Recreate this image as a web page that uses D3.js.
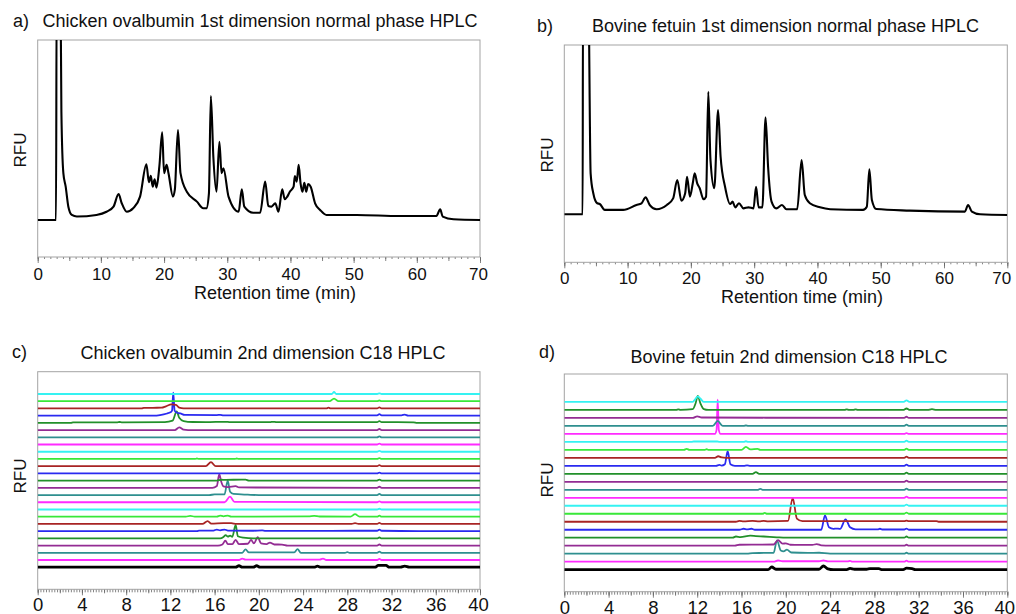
<!doctype html>
<html lang="en">
<head>
  <meta charset="utf-8">
  <title>2D HPLC glycan profiles</title>
  <style>
    body { margin: 0; background: #fff; }
    svg { display: block; font-family: "Liberation Sans", Arial, sans-serif; }
    .frame { fill: none; stroke: #a3a3a3; stroke-width: 1; }
    .tick line { stroke: #666; }
    .domain { display: none; }
    .trace { fill: none; stroke-linejoin: round; }
  </style>
</head>
<body>
  <div id="chart"></div>

  <script src="https://d3js.org/d3.v7.min.js"></script>
  <script>
// ---- data: retention time (min), relative fluorescence ----
const xTicksNP = [0, 10, 20, 30, 40, 50, 60, 70];
const xTicksC18 = [0, 4, 8, 12, 16, 20, 24, 28, 32, 36, 40];

// a) chicken ovalbumin, normal phase
const ovalbuminNP = [[0,0],[2.9,0],[3.0,130],[3.6,130],[3.75,60],[4.06,26],[4.43,18.5],[4.85,7.4],[5.4,2.8],[6.2,1.9],
  [9.3,2.8],[10.9,4.6],[12.0,7.4],[12.8,14.4],[13.3,9.3],[14.1,4.6],[15.1,6.5],[16.2,13],[17.2,31],[17.6,21],
  [17.9,24.6],[18.2,18.5],[18.5,22.6],[18.8,18],[19.25,29.6],[19.7,48.7],[20.0,26],[20.4,30.6],[20.7,26],[21.4,13],
  [21.7,16.7],[22.2,50],[22.6,26],[23.6,15.7],[25.2,10.2],[26.2,6.5],[26.7,6.5],[27.1,14.8],[27.4,68.9],[27.8,35],
  [28.3,15.7],[28.75,43.5],[29.1,26],[29.4,28.7],[30.2,13],[31.8,4.6],[32.3,17],[32.7,7.4],[34.1,4],[35.2,4],
  [36.0,21.3],[36.5,7.8],[37.0,7.4],[37.6,9.3],[38.1,4.6],[38.7,17],[39.1,11.5],[39.5,13],[39.9,15.7],[40.5,18.5],
  [40.7,24.4],[41.0,21.3],[41.3,30.6],[41.6,20.4],[41.9,15.7],[42.2,20.7],[42.5,15.7],[42.8,20],[43.2,18.5],[43.9,9.3],
  [44.7,5.6],[45.7,2.8],[50.5,2.8],[57.3,2.2],[63.1,2.2],[63.7,5.9],[64.1,1.9],[65.8,0.4],[70,0]];

// b) bovine fetuin, normal phase
const fetuinNP = [[0,0],[2.9,0],[2.95,130],[3.8,130],[4.16,24.2],[4.58,12.4],[5.2,6.5],[5.6,6.1],[6.4,2.6],[9.3,2.6],
  [11.4,5.5],[12.2,6.5],[12.85,10],[13.5,5.5],[14.6,3],[16.2,5.5],[17.2,9.4],[17.85,20.3],[18.5,8],[19.1,12.4],
  [19.4,22.2],[19.85,10.4],[20.3,18.3],[20.6,24.2],[21.0,18.3],[21.4,15.4],[22.0,8.9],[22.4,10.4],[22.75,72.4],[23.1,32],
  [23.7,15.4],[24.3,61.6],[24.7,34],[25.4,16.3],[26.2,6.1],[26.6,7.5],[27.0,4.1],[27.6,6.5],[28.3,3.5],[29.1,4.1],
  [29.9,3.5],[30.3,16.3],[30.7,4.1],[31.3,4.1],[31.8,57.3],[32.2,28.1],[32.75,7.5],[33.5,3.5],[34.4,5.5],[35.1,3],
  [36.8,3],[37.5,32],[38.0,11.4],[38.8,6.5],[40.4,4.1],[42.0,3],[47.2,2.6],[47.8,4.5],[48.2,26.6],[48.6,8.5],
  [49.3,3.1],[54.6,2.2],[63.3,1.6],[63.8,5.5],[64.4,1.6],[65.7,0],[70,-0.4]];

// c) chicken ovalbumin C18 fractions, listed bottom (whole sample) to top
const ovalbuminC18 = [
  [[0,0],[17.9,0],[18.2,0.2],[18.5,0],[19.5,0],[19.8,0.2],[20.1,0],[25.0,0],[25.3,0.15],[25.6,0],[30.5,0],[30.8,0.25],[31.5,0.25],[31.8,0],[32.8,0],[33.2,0.15],[33.6,0],[40,0]],
  [[0,0],[18.2,0],[18.5,0.2],[18.8,0.05],[25.5,0.05],[25.8,0.2],[26.1,0],[30.7,0],[30.9,0.15],[31.1,0],[40,0]],
  [[0,0],[18.5,0],[18.8,0.46],[19.1,0.05],[23.2,0.05],[23.5,0.5],[23.8,0],[27.8,0],[28,0.08],[28.2,0],[30.7,0],[30.9,0.15],[31.1,0],[40,0]],
  [[0,0],[16.3,0],[16.7,0.15],[16.97,0.69],[17.2,0.2],[17.6,0.2],[17.9,0.78],[18.2,0.2],[19.0,0.25],[19.3,0.78],[19.55,0.3],[19.9,1.15],[20.2,0.3],[20.7,0.2],[21.0,0.42],[21.4,0.15],[22.1,0.14],[22.6,0],[30.7,0],[30.9,0.15],[31.1,0],[40,0]],
  [[0,0],[16.5,0],[16.8,0.2],[17.0,0.46],[17.2,0.25],[17.4,0.37],[17.6,0.2],[17.9,1.85],[18.1,0.3],[18.6,0.1],[19.5,0],[30.7,0],[30.9,0.12],[31.1,0],[40,0]],
  [[0,0],[14.4,0],[14.6,0.08],[15.9,0.08],[16.2,0.22],[16.5,0.1],[16.9,0.22],[17.2,0.08],[19.5,0.05],[20.3,0.1],[20.6,0.04],[24.5,0.04],[28.6,0.05],[30.7,0.05],[30.9,0.2],[31.1,0.05],[34.5,0],[40,0]],
  [[0,0],[14.9,0],[15.37,0.4],[15.7,0.05],[16.8,0.12],[17.5,0.1],[18,0],[28.4,0],[28.7,0.12],[29,0],[30.7,0],[30.9,0.15],[31.1,0],[40,0]],
  [[0,0],[13.4,0],[13.8,0.12],[14.2,0],[16.2,0],[16.5,0.15],[16.8,0.05],[17.2,0.15],[17.5,0],[24.5,0.05],[25,0.1],[25.5,0.03],[28.3,0],[28.7,0.35],[29.1,0],[30.7,0],[30.9,0.15],[31.1,0],[40,0]],
  [[0,0],[30.7,0],[30.9,0.1],[31.1,0],[40,0]],
  [[0,0],[16.9,0],[17.39,0.79],[17.8,0.05],[30.7,0],[30.9,0.12],[31.1,0],[40,0]],
  [[0,0],[15.5,0],[16.0,0.08],[16.9,0.1],[17.18,2.0],[17.4,0.46],[17.7,0.15],[19,0.05],[20,0],[30.7,0],[30.9,0.15],[31.1,0],[40,0]],
  [[0,0],[15.8,0],[16.2,0.25],[16.42,1.9],[16.6,0.83],[16.8,0.2],[17.2,0.1],[17.9,0.23],[18.2,0.05],[30.7,0],[30.9,0.15],[31.1,0],[40,0]],
  [[0,0],[16.2,0],[16.6,0.12],[17.0,0.1],[18.4,0.14],[18.8,0.14],[19.1,0],[30.7,0],[30.9,0.15],[31.1,0],[40,0]],
  [[0,0],[30.7,0],[30.9,0.12],[31.1,0],[40,0]],
  [[0,0],[15.2,0],[15.67,0.55],[16.1,0],[30.7,0],[30.9,0.15],[31.1,0],[40,0]],
  [[0,0],[14.2,0],[14.4,0.06],[14.6,0],[17.8,0],[18.0,0.06],[18.2,0],[30.7,0],[30.9,0.12],[31.1,0],[40,0]],
  [[0,0],[30.7,0],[30.9,0.12],[31.1,0],[40,0]],
  [[0,0],[30.7,0],[30.9,0.12],[31.1,0],[40,0]],
  [[0,0],[30.7,0],[30.9,0.12],[31.1,0],[40,0]],
  [[0,0],[12.4,0],[12.8,0.37],[13.2,0.05],[13.6,0],[30.7,0],[30.9,0.15],[31.1,0],[40,0]],
  [[0,0],[3,0],[3.2,0.08],[7.2,0.08],[7.4,0.12],[7.6,0.08],[11.5,0.1],[12.2,0.3],[12.57,1.6],[12.8,0.7],[13.2,0.25],[14,0.12],[15.2,0.1],[17.0,0.15],[17.4,0.1],[21,0.1],[21.3,0.15],[21.6,0.1],[30.7,0.1],[30.9,0.25],[31.1,0.1],[34,0.08],[34.3,0],[40,0]],
  [[0,0],[10.5,0],[11.06,0.08],[11.7,0.3],[12.0,0.46],[12.15,0.7],[12.26,3.2],[12.38,0.7],[12.6,0.4],[12.9,0.3],[13.3,0.1],[16.2,0.08],[16.5,0.12],[16.8,0.05],[26,0.05],[30.7,0.05],[30.9,0.2],[31.1,0.05],[32.9,0.05],[33.2,0.15],[33.5,0],[40,0]],
  [[0,0],[9.4,0],[9.6,0.08],[11.2,0.1],[11.6,0.3],[12.1,0.55],[12.5,0.5],[12.8,0.1],[13.2,0],[26.1,0],[26.3,0.1],[26.5,0],[30.7,0],[30.9,0.15],[31.1,0],[40,0]],
  [[0,0],[26.4,0],[26.8,0.37],[27.2,0],[30.7,0],[30.9,0.1],[31.1,0],[40,0]],
  [[0,0],[26.6,0],[26.8,0.28],[27.0,0],[30.7,0],[30.9,0.08],[31.1,0],[40,0]]
];

// d) bovine fetuin C18 fractions, listed bottom (whole sample) to top
const fetuinC18 = [
  [[0,0],[18.4,0],[18.73,0.33],[19.1,0.05],[23.0,0.05],[23.4,0.46],[23.8,0.1],[24.3,0],[25.5,0],[25.8,0.15],[26.2,0.05],[27.3,0.05],[27.6,0.12],[28.4,0.12],[28.7,0],[30.6,0],[30.9,0.18],[31.4,0.12],[31.7,0],[40,0]],
  [[0,0],[18.9,0],[19.3,0.15],[19.7,0.05],[23.0,0.05],[23.4,0.15],[23.8,0.03],[25.6,0.03],[25.8,0.1],[26,0],[30.7,0],[30.9,0.12],[31.1,0],[40,0]],
  [[0,0],[16.5,0],[17,0.08],[18.9,0.1],[19.2,1.67],[19.55,0.4],[19.8,0.3],[20.1,0.5],[20.5,0.15],[22,0.1],[23,0.12],[24,0],[30.7,0],[30.9,0.12],[31.1,0],[40,0]],
  [[0,0],[15.4,0],[15.8,0.12],[18.9,0.15],[19.3,0.7],[19.7,0.25],[20.0,0.3],[20.4,0.12],[22.4,0.1],[22.8,0.2],[23.2,0.05],[24,0],[30.7,0],[30.9,0.12],[31.1,0],[40,0]],
  [[0,0],[15.2,0],[15.5,0.15],[15.9,0.08],[16.8,0.25],[17.3,0.2],[18,0.15],[19.2,0.05],[20,0],[30.7,0],[30.9,0.15],[31.1,0],[40,0]],
  [[0,0],[15.8,0],[16.2,0.12],[16.5,0.05],[16.9,0.12],[17.2,0],[23.2,0],[23.54,1.8],[23.9,0.3],[24.3,0.1],[24.55,0.15],[24.9,0.1],[25.4,1.3],[25.8,0.3],[26.3,0.05],[28.3,0.05],[28.5,0.12],[28.7,0.03],[30.7,0.03],[30.9,0.15],[31.1,0],[40,0]],
  [[0,0],[15.5,0],[15.8,0.1],[16.2,0.05],[17,0.1],[17.6,0.05],[18,0.12],[18.4,0.05],[20.2,0.1],[20.62,3.0],[21.0,0.4],[21.5,0.08],[30.7,0.08],[30.9,0.15],[31.1,0.08],[33.6,0.08],[33.8,0],[40,0]],
  [[0,0],[17.9,0],[18.1,0.1],[18.3,0],[30.7,0],[30.9,0.15],[31.1,0],[40,0]],
  [[0,0],[30.7,0],[30.9,0.15],[31.1,0],[40,0]],
  [[0,0],[30.7,0],[30.9,0.15],[31.1,0],[40,0]],
  [[0,0],[17.5,0],[17.7,0.12],[17.9,0],[30.7,0],[30.9,0.15],[31.1,0],[40,0]],
  [[0,0],[30.7,0],[30.9,0.15],[31.1,0],[40,0]],
  [[0,0],[17.0,0],[17.3,0.22],[17.6,0],[30.7,0],[30.9,0.15],[31.1,0],[40,0]],
  [[0,0],[13.7,0],[14,0.12],[14.2,0.03],[14.5,0.2],[14.75,1.84],[15.0,0.2],[15.4,0],[16.2,0],[16.5,0.05],[16.8,0],[30.7,0],[30.9,0.15],[31.1,0],[40,0]],
  [[0,0],[13.6,0],[13.9,0.2],[14.2,0.05],[14.6,0],[30.7,0],[30.9,0.15],[31.1,0],[40,0]],
  [[0,0],[10.8,0],[11.05,0.12],[11.3,0],[12.7,0],[12.85,0.08],[13,0],[16,0],[16.4,0.38],[16.8,0.05],[17.45,0.12],[17.7,0],[30.7,0],[30.9,0.15],[31.1,0],[40,0]],
  [[0,0],[11.5,0],[11.7,0.05],[13.8,0.05],[14,0],[16.2,0],[16.4,0.08],[16.6,0],[30.7,0],[30.9,0.15],[31.1,0],[40,0]],
  [[0,0],[13.6,0],[13.75,0.5],[13.85,4.3],[13.95,0.5],[14.1,0],[30.7,0],[30.9,0.1],[31.1,0],[40,0]],
  [[0,0],[13.4,0],[13.85,0.63],[14.3,0],[16.2,0],[16.4,0.05],[16.6,0],[30.7,0],[30.9,0.15],[31.1,0],[40,0]],
  [[0,0],[11.6,0],[12.0,0.2],[12.4,0.05],[30.7,0],[30.9,0.15],[31.1,0],[40,0]],
  [[0,0],[10.1,0],[10.3,0.08],[10.5,0],[11.6,0.1],[11.85,0.8],[12.05,1.75],[12.3,0.8],[12.6,0.1],[13,0],[25.3,0],[25.5,0.08],[25.7,0],[26.1,0],[26.3,0.08],[26.5,0],[30.6,0],[30.9,0.18],[31.2,0],[32.8,0],[33.2,0.1],[33.6,0],[40,0]],
  [[0,0],[11.6,0],[11.85,0.4],[12.05,0.7],[12.3,0.4],[12.6,0],[30.6,0],[30.9,0.2],[31.2,0],[40,0]]
];

// ---- styles ----
const ink = {
  magenta: '#ff2bff', teal: '#2e8f8f', purple: '#932c93', dkgreen: '#22902a',
  blue: '#2a2af0', dkred: '#a82424', green: '#38e838', cyan: '#35f2f2'
};
const cycle = ['magenta', 'teal', 'purple', 'dkgreen', 'blue', 'dkred', 'green', 'cyan'];
const colorsC = ['#000'].concat(d3.range(1, 25).map(i => ink[cycle[(i - 1) % 8]]));
const colorsD = ['#000'].concat(d3.range(1, 21).map(i => ink[cycle[(i - 1) % 8]]), [ink.cyan]);

const svg = d3.select('#chart').append('svg')
  .attr('width', 1016)
  .attr('height', 614);

let clipId = 0;

// frame + bottom axis shared by all four panels
function panel(box, xDomain, majors, minorStep, opts) {
  const x = d3.scaleLinear().domain(xDomain).range([box.left, box.right]);
  const g = svg.append('g');

  const minors = d3.range(xDomain[0], xDomain[1] + 1e-9, minorStep);
  g.append('g')
    .attr('transform', `translate(0,${box.bottom})`)
    .call(d3.axisBottom(x).tickValues(minors).tickSize(opts.minorSize).tickFormat(''));
  if (opts.midStep) {
    g.append('g')
      .attr('transform', `translate(0,${box.bottom})`)
      .call(d3.axisBottom(x).tickValues(d3.range(xDomain[0], xDomain[1] + 1e-9, opts.midStep)).tickSize(opts.midSize).tickFormat(''));
  }
  const ax = g.append('g')
    .attr('transform', `translate(0,${box.bottom})`)
    .call(d3.axisBottom(x).tickValues(majors).tickSize(opts.majorSize).tickPadding(opts.pad).tickFormat(d3.format('d')));
  ax.selectAll('text').attr('fill', '#111').style('font-size', opts.tickFont + 'px').attr('font-family', null);
  // keep the last label inside the page, as in the original figure
  ax.selectAll('text').filter(d => d === majors[majors.length - 1]).attr('dx', opts.lastShift || 0);
  ax.selectAll('.tick line').attr('stroke', '#555');
  g.selectAll('.tick line').attr('stroke-width', 0.8);

  g.append('rect').attr('class', 'frame')
    .attr('x', box.left).attr('y', box.top)
    .attr('width', box.right - box.left).attr('height', box.bottom - box.top);

  const id = 'clip' + (clipId++);
  svg.append('clipPath').attr('id', id)
    .append('rect')
    .attr('x', box.left).attr('y', box.top)
    .attr('width', box.right - box.left).attr('height', box.bottom - box.top);
  const plot = svg.append('g').attr('clip-path', `url(#${id})`);
  return { x, plot };
}

function label(txt, x, y, size, anchor) {
  svg.append('text').attr('x', x).attr('y', y)
    .attr('text-anchor', anchor || 'start')
    .style('font-size', size + 'px').attr('fill', '#111')
    .text(txt);
}

function rfu(x, y) {
  svg.append('text')
    .attr('transform', `translate(${x},${y}) rotate(-90)`)
    .attr('text-anchor', 'middle')
    .style('font-size', '17px').attr('fill', '#111')
    .text('RFU');
}

const smooth = d3.curveMonotoneX;

// ---- a) ----
const boxA = { left: 37.7, right: 480, top: 40, bottom: 257 };
const pa = panel(boxA, [0, 70], xTicksNP, 1, { minorSize: 2, midStep: 5, midSize: 4, majorSize: 6, pad: 5, tickFont: 17, lastShift: -2 });
const yA = d3.scaleLinear().domain([-20.56, 100]).range([boxA.bottom, boxA.top]);
pa.plot.append('path').datum(ovalbuminNP).attr('class', 'trace')
  .attr('stroke', '#000').attr('stroke-width', 2.1)
  .attr('d', d3.line().curve(smooth).x(d => pa.x(d[0])).y(d => yA(d[1])));
label('a)', 13, 27, 18);
label('Chicken ovalbumin 1st dimension normal phase HPLC', 260, 27, 18, 'middle');
label('Retention time (min)', 275, 299, 18, 'middle');
rfu(26, 150);

// ---- b) ----
const boxB = { left: 564.3, right: 1007.3, top: 45, bottom: 262.3 };
const pb = panel(boxB, [0, 70], xTicksNP, 1, { minorSize: 2, midStep: 5, midSize: 4, majorSize: 6, pad: 4, tickFont: 17, lastShift: -6 });
const yB = d3.scaleLinear().domain([-28.35, 100]).range([boxB.bottom, boxB.top]);
pb.plot.append('path').datum(fetuinNP).attr('class', 'trace')
  .attr('stroke', '#000').attr('stroke-width', 2.1)
  .attr('d', d3.line().curve(smooth).x(d => pb.x(d[0])).y(d => yB(d[1])));
label('b)', 537, 32, 18);
label('Bovine fetuin 1st dimension normal phase HPLC', 785.5, 32, 18, 'middle');
label('Retention time (min)', 802, 303, 18, 'middle');
rfu(553, 155);

// ---- stacked C18 panels ----
function stack(p, y, traces, colors) {
  traces.forEach((tr, i) => {
    p.plot.append('path').datum(tr).attr('class', 'trace')
      .attr('stroke', colors[i])
      .attr('stroke-width', i === 0 ? 2.8 : 1.8)
      .attr('d', d3.line().curve(smooth).x(d => p.x(d[0])).y(d => y(i + d[1])));
  });
}

const boxC = { left: 37.7, right: 480, top: 371.7, bottom: 589.3 };
const pc = panel(boxC, [0, 40], xTicksC18, 0.25, { minorSize: 3, midStep: 2, midSize: 4, majorSize: 6, pad: 3, tickFont: 18.5, lastShift: -2 });
const yC = d3.scaleLinear().domain([-3.06, 27.09]).range([boxC.bottom, boxC.top]);
stack(pc, yC, ovalbuminC18, colorsC);
label('c)', 12, 358, 18);
label('Chicken ovalbumin 2nd dimension C18 HPLC', 263, 359, 18, 'middle');
rfu(26, 476);

const boxD = { left: 564.3, right: 1007.3, top: 374, bottom: 591.7 };
const pd = panel(boxD, [0, 40], xTicksC18, 0.25, { minorSize: 3, midStep: 2, midSize: 4, majorSize: 6, pad: 3, tickFont: 18.5, lastShift: -3 });
const yD = d3.scaleLinear().domain([-2.76, 24.5]).range([boxD.bottom, boxD.top]);
stack(pd, yD, fetuinC18, colorsD);
label('d)', 539, 358, 18);
label('Bovine fetuin 2nd dimension C18 HPLC', 789, 363, 18, 'middle');
rfu(553, 480);
  </script>
</body>
</html>
